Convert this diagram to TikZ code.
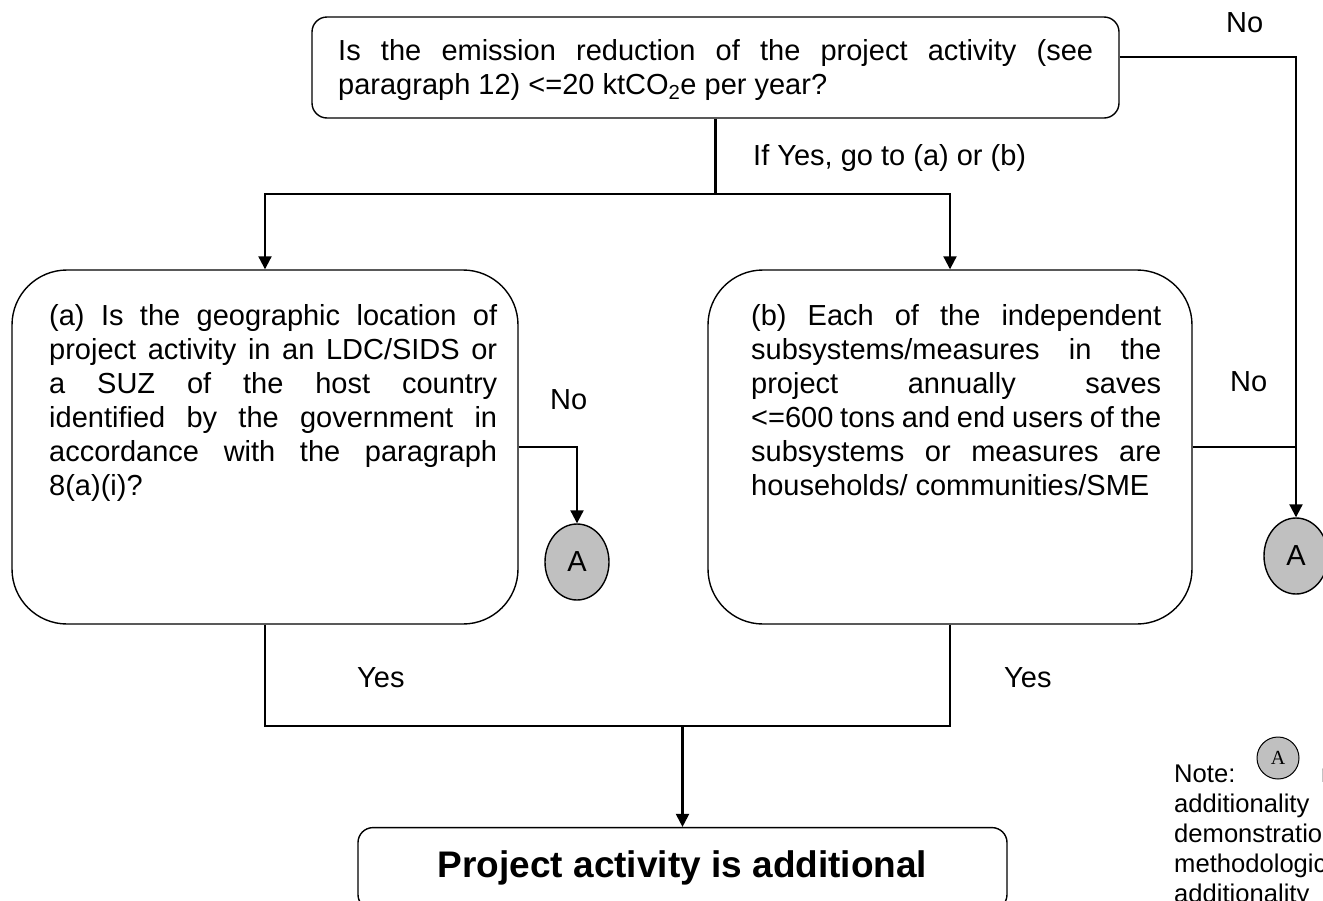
\documentclass[tikz,border=0pt]{standalone}
\usepackage{fontspec}
\setmainfont{Liberation Sans}
\newfontfamily\serifA{Liberation Serif}
\usetikzlibrary{arrows.meta,shapes.geometric}
\definecolor{circgray}{RGB}{192,192,192}
\newcommand\jline[2]{\hbox{\makebox[#1][s]{#2}}}
\newcommand\pline[1]{\hbox{#1}}
\newcommand\txtlines[1]{\vtop{\baselineskip=34pt\lineskiplimit=-100pt\lineskip=0pt #1}}
\begin{document}
\begin{tikzpicture}[x=1pt,y=-1pt,
  box/.style={draw, line width=1.4pt, inner sep=0pt},
  txt/.style={inner sep=0pt, font=\fontsize{29}{34}\selectfont},
  notetxt/.style={inner sep=0pt, anchor=base west, font=\fontsize{25.6}{30}\selectfont},
  conn/.style={line width=2.1pt},
  arr/.style={conn, -{Triangle[length=13pt,width=13pt]}},
  circ/.style={ellipse, draw, line width=1.4pt, fill=circgray, minimum width=64pt,
    minimum height=76pt, inner sep=0pt, font=\fontsize{29}{34}\selectfont}
]
\useasboundingbox (0,0) rectangle (1323,900);
\clip (0,0) rectangle (1323,900);

% top question
\node[box, rounded corners=15pt, minimum width=807pt, minimum height=101pt] (q0) at (715.5,67.5) {};
\node[txt, anchor=base west] (q0t) at (338,60) {\txtlines{%
  \jline{755pt}{Is the emission reduction of the project activity (see}%
  \pline{paragraph 12) <=20 ktCO\textsubscript{2}e per year?}}};

% box a
\node[box, rounded corners=55pt, minimum width=506pt, minimum height=354pt] (boxa) at (265,447) {};
\node[txt, anchor=base west] (boxat) at (49,325) {\txtlines{%
  \jline{448pt}{(a) Is the geographic location of}%
  \jline{448pt}{project activity in an LDC/SIDS or}%
  \jline{448pt}{a SUZ of the host country}%
  \jline{448pt}{identified by the government in}%
  \jline{448pt}{accordance with the paragraph}%
  \pline{8(a)(i)?}}};

% box b
\node[box, rounded corners=55pt, minimum width=484pt, minimum height=354pt] (boxb) at (950,447) {};
\node[txt, anchor=base west] (boxbt) at (751,325) {\txtlines{%
  \jline{410pt}{(b) Each of the independent}%
  \jline{410pt}{subsystems/measures in the}%
  \jline{410pt}{project annually saves}%
  \jline{410pt}{<=600 tons and end users of the}%
  \jline{410pt}{subsystems or measures are}%
  \pline{households/ communities/SME}}};

% circles
\node[circ] (circA) at (577,562) {A};
\node[circ] (circB) at (1296,556) {A};

% final box
\node[box, rounded corners=15pt, minimum width=649pt, minimum height=82pt,
  font=\bfseries\fontsize{37}{44}\selectfont, text height=26.5pt, text depth=7.8pt] (final) at (682.5,868.6) {Project activity is additional};

% connectors
\coordinate (split) at (715.5,194);
\coordinate (merge) at (682.5,726);
\draw[conn] (q0.south) -- (split);
\draw[arr] (split) -| (boxa.north);
\draw[arr] (split) -| (boxb.north);
\draw[arr] ([yshift=10.5pt]q0.east) -| (circB.north);
\draw[arr] (boxa.east) -| (circA.north);
\draw[conn] (boxb.east) -- (boxb.east -| circB.north);
\draw[conn] (boxa.south) |- (merge);
\draw[conn] (boxb.south) |- (merge);
\draw[arr] (merge) -- (final.north);

% labels
\node[txt, anchor=base west] (ifyes) at (753,165) {If Yes, go to (a) or (b)};
\node[txt, anchor=base west] (noTop) at (1226,32) {No};
\node[txt, anchor=base west] (noA) at (550,409) {No};
\node[txt, anchor=base west] (noB) at (1230,391) {No};
\node[txt, anchor=base west] (yesA) at (357,687) {Yes};
\node[txt, anchor=base west] (yesB) at (1004,687) {Yes};

% note
\node[notetxt] (note1) at (1174,782) {Note:};
\node[circle, draw, line width=1pt, fill=circgray, minimum size=42pt, inner sep=0pt,
  font=\serifA\fontsize{20}{20}\selectfont] (noteA) at (1278,758) {A};
\node[notetxt] (note1b) at (1321,782) {refers to the};
\node[notetxt] (note2) at (1174,812) {additionality};
\node[notetxt] (note3) at (1174,842) {demonstration};
\node[notetxt] (note4) at (1174,872) {methodological};
\node[notetxt] (note5) at (1174,902) {additionality};
\end{tikzpicture}
\end{document}
